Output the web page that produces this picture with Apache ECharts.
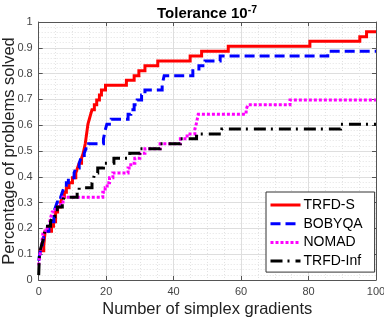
<!DOCTYPE html>
<html>
<head>
<meta charset="utf-8">
<script src="https://cdn.jsdelivr.net/npm/echarts@6/dist/echarts.min.js"></script>
<style>html,body{margin:0;padding:0;background:#fff}#c{width:384px;height:320px}</style>
</head>
<body>
<div id="c"></div>
<script>
// ---- data ----
const seriesNames = ['TRFD-S', 'BOBYQA', 'NOMAD', 'TRFD-Inf'];
const xTicks = [0, 20, 40, 60, 80, 100];
const yTicks = [0, 0.1, 0.2, 0.3, 0.4, 0.5, 0.6, 0.7, 0.8, 0.9, 1];

const xTRFDS = [0, 1.5, 1.9, 3.8, 4.4, 5, 5.6, 6.5, 7, 7.6, 8.2, 9, 10, 11, 11.5, 12, 12.7, 13.2, 13.5, 13.8, 14, 14.2, 14.4, 14.6, 15, 15.4, 15.8, 16.5, 17.2, 18, 18.6, 19.8, 26, 28.3, 29.7, 31.5, 35.3, 44.9, 48.3, 56.2, 80.4, 95.2, 97.2, 100];
const yTRFDS = [0.113, 0.132, 0.189, 0.208, 0.226, 0.264, 0.283, 0.302, 0.321, 0.340, 0.358, 0.377, 0.396, 0.415, 0.434, 0.453, 0.472, 0.491, 0.509, 0.528, 0.547, 0.566, 0.585, 0.604, 0.623, 0.642, 0.660, 0.679, 0.698, 0.717, 0.736, 0.755, 0.774, 0.792, 0.811, 0.830, 0.849, 0.868, 0.887, 0.906, 0.925, 0.943, 0.962, 0.962];

const xBOBYQA = [0, 0.5, 1, 1.5, 2, 3, 3.8, 4.5, 5, 5.5, 6.5, 7, 7.5, 8.2, 8.8, 10.5, 11, 12, 12.5, 13.5, 14, 14.8, 19.2, 19.5, 19.8, 20.2, 21.5, 26.5, 27.3, 28.3, 29.2, 30.5, 31.5, 36.6, 36.9, 37.2, 45.7, 47.5, 49.3, 53.8, 85.7, 100];
const yBOBYQA = [0.075, 0.113, 0.132, 0.170, 0.189, 0.208, 0.226, 0.264, 0.283, 0.302, 0.321, 0.340, 0.358, 0.377, 0.396, 0.415, 0.434, 0.453, 0.472, 0.491, 0.509, 0.528, 0.547, 0.566, 0.585, 0.604, 0.623, 0.642, 0.660, 0.679, 0.698, 0.717, 0.736, 0.755, 0.774, 0.792, 0.811, 0.830, 0.849, 0.868, 0.887, 0.887];

const xNOMAD = [0, 0.3, 0.6, 1, 1.3, 2.5, 3.3, 3.6, 4, 5, 6.5, 7.2, 19, 19.7, 20.3, 21, 22, 26.5, 27.3, 28.5, 30, 31.5, 36, 42, 44, 46.3, 46.7, 47, 47.3, 61.5, 62, 74.5, 100];
const yNOMAD = [0.057, 0.094, 0.113, 0.151, 0.189, 0.208, 0.226, 0.245, 0.264, 0.283, 0.302, 0.321, 0.340, 0.358, 0.377, 0.396, 0.415, 0.434, 0.453, 0.472, 0.491, 0.509, 0.528, 0.547, 0.566, 0.585, 0.604, 0.623, 0.642, 0.660, 0.679, 0.698, 0.698];

const xTRFDInf = [0, 0.1, 0.2, 0.4, 0.8, 1.2, 1.5, 1.8, 2, 3.5, 4, 4.8, 5.5, 7, 7.5, 11.4, 12, 15.8, 16.3, 16.6, 17.5, 19.2, 22.3, 27, 30, 36, 42, 46.8, 54.3, 89.5, 100];
const yTRFDInf = [0.019, 0.057, 0.094, 0.113, 0.132, 0.151, 0.170, 0.189, 0.208, 0.226, 0.245, 0.264, 0.283, 0.302, 0.321, 0.340, 0.358, 0.377, 0.396, 0.415, 0.434, 0.453, 0.472, 0.491, 0.509, 0.528, 0.547, 0.566, 0.585, 0.604, 0.604];

// ---- chart ----
const pairs = (xs, ys) => xs.map((x, i) => [x, ys[i]]);
const FONT = 'Liberation Sans, Arial, Helvetica, sans-serif';
const AX = '#555555';
const chart = echarts.init(document.getElementById('c'), null, {renderer: 'canvas'});

const baseX = {
  type: 'value', min: xTicks[0], max: xTicks[xTicks.length - 1], interval: xTicks[1] - xTicks[0],
  axisLine: {show: true, onZero: false, lineStyle: {color: AX, width: 1}},
  axisTick: {show: true, inside: true, length: 4, lineStyle: {color: AX}},
  minorTick: {show: false, splitNumber: 4},
};
const baseY = {
  type: 'value', min: yTicks[0], max: yTicks[yTicks.length - 1], interval: 0.1,
  axisLine: {show: true, onZero: false, lineStyle: {color: AX, width: 1}},
  axisTick: {show: true, inside: true, length: 4, lineStyle: {color: AX}},
  minorTick: {show: false, splitNumber: 5},
};

const styles = [
  {color: '#ff0000', type: 'solid'},
  {color: '#0000ff', type: [10, 5]},
  {color: '#ff00ff', type: [3, 2]},
  {color: '#000000', type: [12, 5, 2, 6]},
];
const datasets = [pairs(xTRFDS, yTRFDS), pairs(xBOBYQA, yBOBYQA), pairs(xNOMAD, yNOMAD), pairs(xTRFDInf, yTRFDInf)];

chart.setOption({
  animation: false,
  backgroundColor: '#ffffff',
  textStyle: {fontFamily: FONT},
  title: {
    text: '{b|Tolerance 10}{s|-7}',
    left: 202, top: 0, textAlign: 'center',
    textStyle: {
      rich: {
        b: {fontSize: 15, fontWeight: 'bold', color: '#000', fontFamily: FONT},
        s: {fontSize: 10.5, fontWeight: 'bold', color: '#000', fontFamily: FONT, padding: [0, 0, 7, 0]}
      }
    }
  },
  grid: {left: 38.7, right: 8, top: 22, bottom: 40, containLabel: false, outerBoundsMode: 'none'},
  xAxis: [
    Object.assign({}, baseX, {
      position: 'bottom',
      name: 'Number of simplex gradients', nameLocation: 'middle', nameGap: 21, nameMoveOverlap: false,
      nameTextStyle: {fontSize: 16.5, color: '#222', fontFamily: FONT},
      axisLabel: {show: true, color: '#444', fontSize: 11, margin: 6, fontFamily: FONT},
      splitLine: {show: true, lineStyle: {color: '#dedede', width: 1}},
      minorSplitLine: {show: true, lineStyle: {color: '#e2e2e2', width: 1, type: [1, 2]}},
    }),
    Object.assign({}, baseX, {position: 'top', axisLabel: {show: false}, splitLine: {show: false}})
  ],
  yAxis: [
    Object.assign({}, baseY, {
      position: 'left',
      name: 'Percentage of problems solved', nameLocation: 'middle', nameGap: 21, nameMoveOverlap: false,
      nameTextStyle: {fontSize: 16.5, color: '#222', fontFamily: FONT},
      axisLabel: {show: true, color: '#444', fontSize: 11, margin: 6, fontFamily: FONT,
        formatter: v => String(Math.round(v * 10) / 10)},
      splitLine: {show: true, lineStyle: {color: '#dedede', width: 1}},
      minorSplitLine: {show: true, lineStyle: {color: '#e2e2e2', width: 1, type: [1, 2]}},
    }),
    Object.assign({}, baseY, {position: 'right', axisLabel: {show: false}, splitLine: {show: false}})
  ],
  legend: {
    orient: 'vertical', left: 266, top: 192,
    padding: [6, 12, 4, 3], itemGap: 4.7, itemWidth: 30, itemHeight: 14,
    backgroundColor: '#ffffff', borderColor: '#333', borderWidth: 1, borderRadius: 0,
    itemStyle: {opacity: 0},
    lineStyle: {width: 3},
    textStyle: {fontSize: 14, color: '#000', fontFamily: FONT, padding: [0, 0, 0, -2]},
    data: seriesNames,
  },
  series: seriesNames.map((n, i) => ({
    name: n, type: 'line', step: 'end', showSymbol: false, symbol: 'none',
    xAxisIndex: 0, yAxisIndex: 0,
    data: datasets[i],
    lineStyle: {color: styles[i].color, width: 3, type: styles[i].type, cap: 'butt', join: 'miter'},
    itemStyle: {color: styles[i].color},
    z: 2 + i,
  }))
});
</script>
</body>
</html>
